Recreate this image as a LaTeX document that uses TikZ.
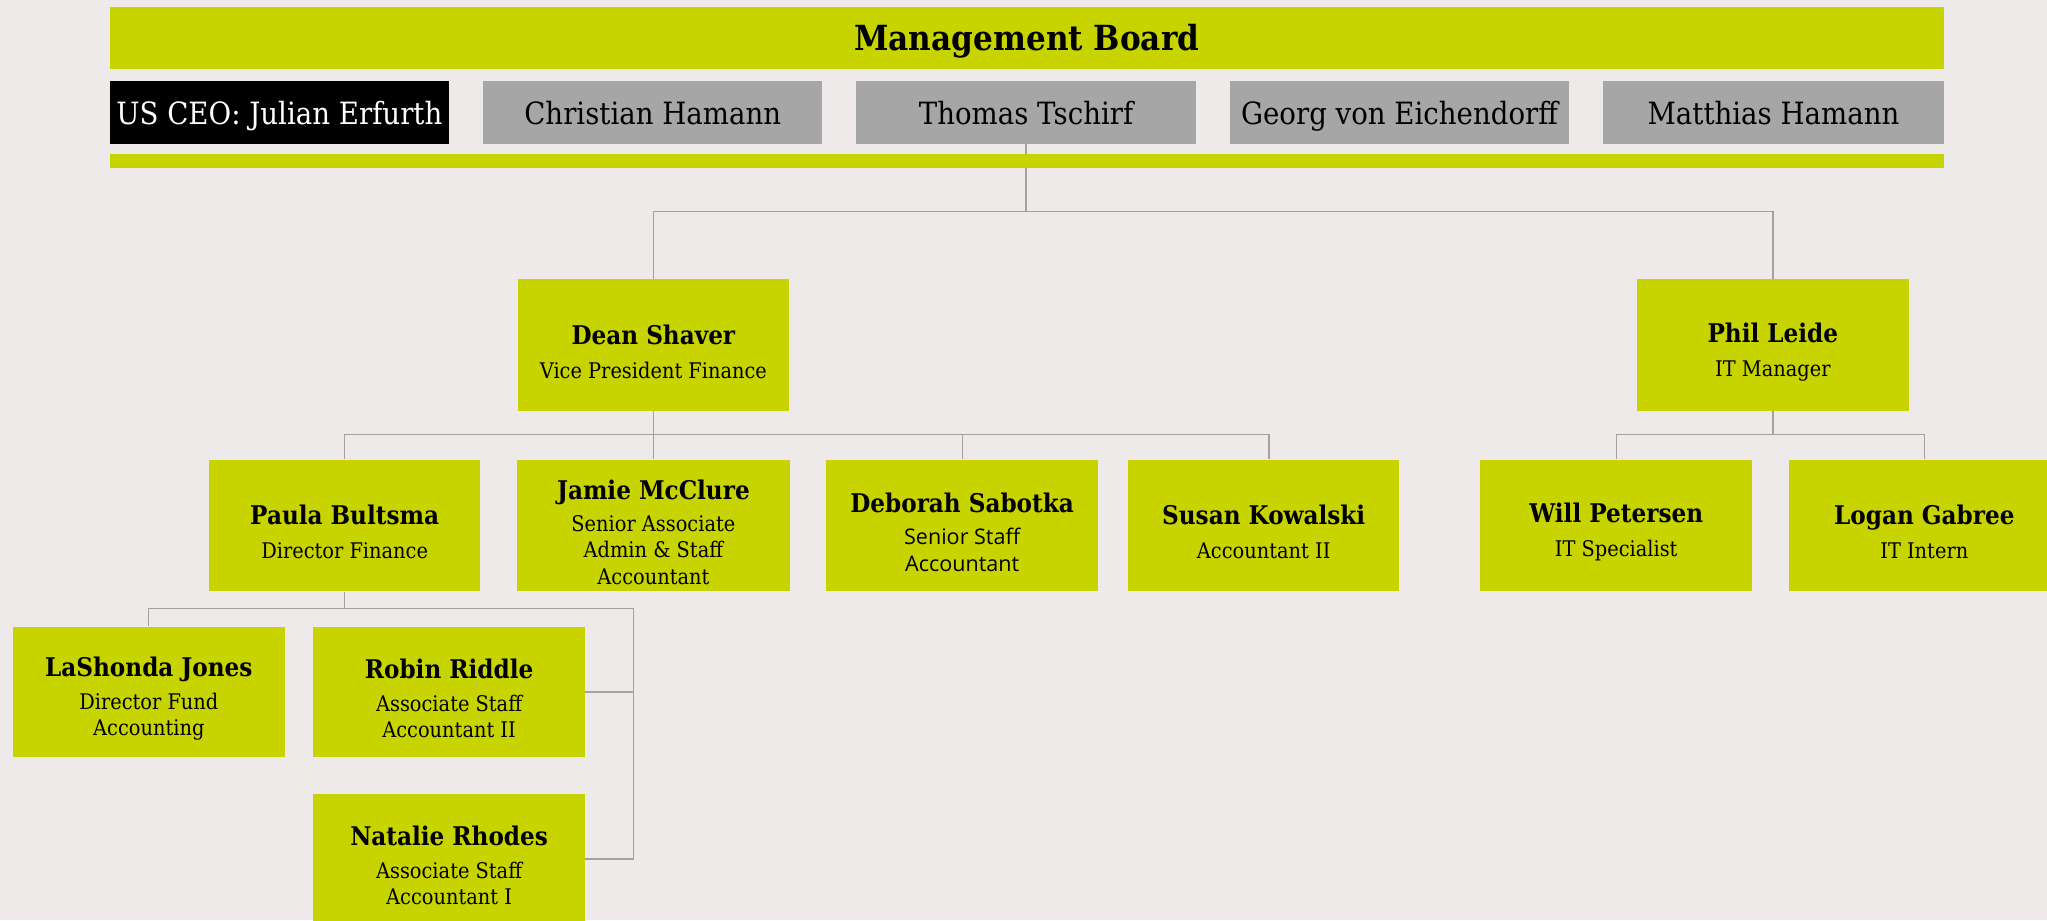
\documentclass[tikz,border=0pt]{standalone}
\usepackage{fontspec}
\setmainfont{DejaVu Serif}[FakeStretch=0.9]
\newfontfamily\subsans{Open Sans}
\definecolor{bgc}{HTML}{EEEAE9}
\definecolor{grn}{HTML}{C8D400}
\definecolor{gry}{HTML}{A6A6A6}
\definecolor{lnc}{HTML}{A8A09C}
\pgfdeclarelayer{bgl}
\pgfdeclarelayer{lines}
\pgfsetlayers{bgl,lines,main}
\tikzset{
  box/.style={fill=grn, inner sep=0pt, minimum width=208, minimum height=101, align=center,
    font=\fontsize{16.5}{20}\selectfont},
  topbox/.style={fill=gry, inner sep=0pt, minimum width=260, minimum height=48,
    text height=22, text depth=4, font=\fontsize{23.5}{26}\selectfont},
  conn/.style={draw=lnc, line width=1pt}
}
\newcommand{\nm}[1]{{\fontsize{19.7}{20}\selectfont\bfseries\rule{0pt}{25pt}#1}}
\newcommand{\ssub}[1]{{\subsans\fontsize{16.5}{20}\selectfont #1}}
\begin{document}
\begin{tikzpicture}[x=1pt,y=-1pt]
\begin{pgfonlayer}{bgl}
\fill[bgc] (0,0) rectangle (1568,705);
\end{pgfonlayer}
\useasboundingbox (0,0) rectangle (1568,705);
% management board
\node[fill=grn, minimum width=1405, minimum height=48, inner sep=0pt, text height=24, text depth=4.6,
  font=\fontsize{26.5}{30}\selectfont\bfseries] (mb) at (786.5,29) {Management Board};
\node[topbox, fill=black, text=white] (ceo) at (214,86) {US CEO: Julian Erfurth};
\node[topbox] (ch) at (500,86) {Christian Hamann};
\node[topbox] (tt) at (786,86) {Thomas Tschirf};
\node[topbox] (ge) at (1072,86) {Georg von Eichendorff};
\node[topbox, minimum width=261] (mh) at (1358.5,86) {Matthias Hamann};
\node[fill=grn, minimum width=1405, minimum height=11, inner sep=0pt] (bar) at (786.5,123.5) {};
% level 1
\node[box] (dean) at (500.5,264.5) {\nm{Dean Shaver}\\[6pt]Vice President Finance};
\node[box] (phil) at (1358,264.5) {\nm{Phil Leide}\\[6pt]IT Manager};
% level 2
\node[box] (paula) at (264,402.5) {\nm{Paula Bultsma}\\[6pt]Director Finance};
\node[box, minimum width=209] (jamie) at (500.5,402.5) {\nm{Jamie McClure}\\[5pt]Senior Associate\\Admin \& Staff\\Accountant};
\node[box] (deborah) at (737,402.5) {\nm{Deborah Sabotka}\\[5pt]\ssub{Senior Staff}\\\ssub{Accountant}};
\node[box] (susan) at (968,402.5) {\nm{Susan Kowalski}\\[6pt]Accountant II};
\node[box] (will) at (1238,402.5) {\nm{Will Petersen}\\[6pt]IT Specialist};
\node[box] (logan) at (1474,402.5) {\nm{Logan Gabree}\\[6pt]IT Intern};
% level 3
\node[box, minimum height=100] (lashonda) at (114,530) {\nm{LaShonda Jones}\\[5pt]Director Fund\\Accounting};
\node[box, minimum height=100] (robin) at (344,530) {\nm{Robin Riddle}\\[5pt]Associate Staff\\Accountant II};
\node[box, minimum height=100] (natalie) at (344,658) {\nm{Natalie Rhodes}\\[5pt]Associate Staff\\Accountant I};
% connectors
\begin{pgfonlayer}{lines}
\coordinate (j1) at (786,162);
\coordinate (j2) at (500.5,333);
\coordinate (j3) at (1358,333);
\coordinate (j4) at (264,466);
\coordinate (j5) at (485,466);
\draw[conn] (tt.south) -- (j1);
\draw[conn] (dean.north) |- (j1) -| (phil.north);
\draw[conn] (dean.south) -- (jamie.north);
\draw[conn] (paula.north) |- (j2) -| ([xshift=4]susan.north);
\draw[conn] (deborah.north) |- (j2);
\draw[conn] (phil.south) -- (j3);
\draw[conn] (will.north) |- (j3) -| (logan.north);
\draw[conn] (paula.south) -- (j4);
\draw[conn] (lashonda.north) |- (j4);
\draw[conn] (j4) -- (j5) |- (natalie.east);
\draw[conn] (robin.east) -| (j5);
\end{pgfonlayer}
\end{tikzpicture}
\end{document}
